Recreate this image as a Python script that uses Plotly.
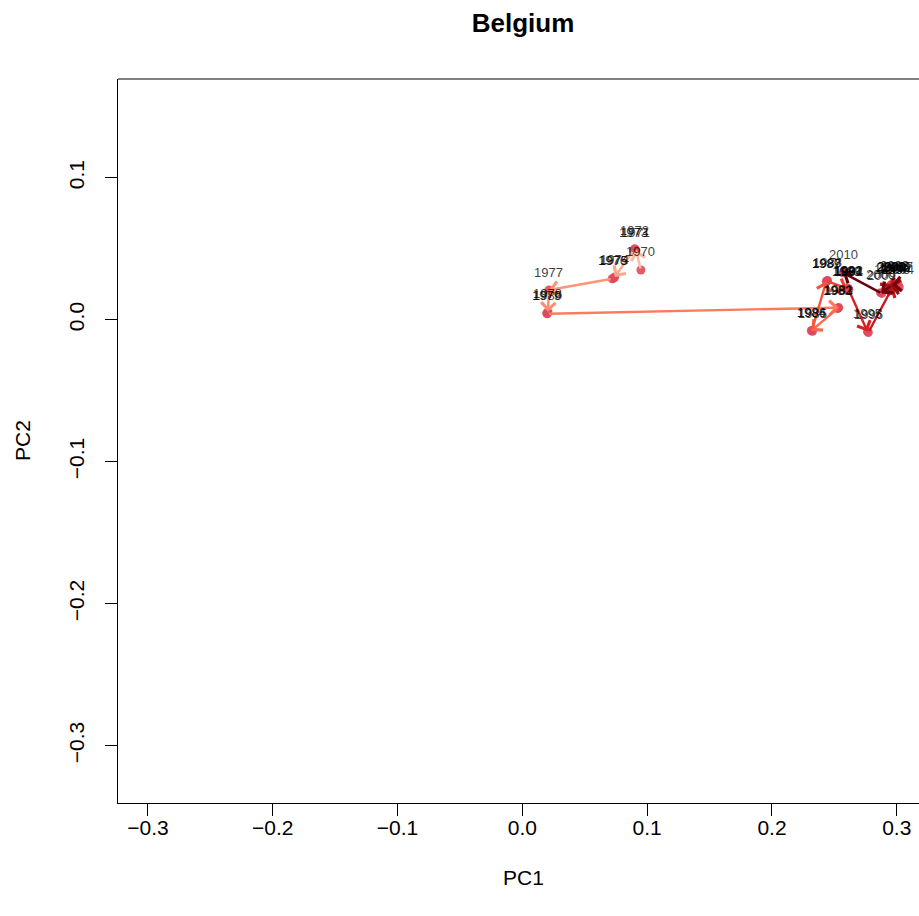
import plotly.graph_objects as go

# Belgium: yearly scores on the first two principal components
years = list(range(1970, 2011))
pc1 = [0.0950, 0.0910, 0.0900, 0.0890, 0.0740, 0.0730, 0.0720, 0.0213,
       0.0205, 0.0195, 0.0200, 0.2535, 0.2525, 0.2530, 0.2315, 0.2325,
       0.2320, 0.2435, 0.2445, 0.2440, 0.2605, 0.2615, 0.2610, 0.2600,
       0.2612, 0.2765, 0.2772, 0.2970, 0.2990, 0.2930, 0.2870, 0.2960,
       0.3000, 0.2980, 0.3020, 0.2950, 0.2990, 0.3010, 0.2960, 0.2880,
       0.2570]
pc2 = [0.0350, 0.0490, 0.0500, 0.0488, 0.0300, 0.0292, 0.0288, 0.0209,
       0.0055, 0.0045, 0.0042, 0.0085, 0.0078, 0.0082, -0.0078, -0.0082,
       -0.0076, 0.0270, 0.0276, 0.0272, 0.0218, 0.0214, 0.0220, 0.0212,
       0.0216, -0.0084, -0.0090, 0.0235, 0.0245, 0.0225, 0.0190, 0.0250,
       0.0240, 0.0255, 0.0230, 0.0240, 0.0225, 0.0250, 0.0245, 0.0185,
       0.0330]

x_ticks = [-0.3, -0.2, -0.1, 0.0, 0.1, 0.2, 0.3]
y_ticks = [-0.3, -0.2, -0.1, 0.0, 0.1]


def fmt(v):
    s = f"{abs(v):.1f}"
    return ("\u2212" + s) if v < 0 else s


# Brewer "Reds" ramp used for the year-to-year arrows
reds = ["#FCBBA1", "#FC9272", "#FB6A4A", "#EF3B2C", "#CB181D", "#A50F15", "#67000D"]


def hex_rgb(h):
    return tuple(int(h[i:i + 2], 16) for i in (1, 3, 5))


def ramp(t):
    n = len(reds) - 1
    pos = t * n
    i = min(int(pos), n - 1)
    f = pos - i
    a, b = hex_rgb(reds[i]), hex_rgb(reds[i + 1])
    c = [round(a[k] + (b[k] - a[k]) * f) for k in range(3)]
    return "#%02X%02X%02X" % tuple(c)


FONT = "Liberation Sans, Arial, Helvetica, sans-serif"
W, H = 919, 916
L, T, B = 118, 79, 113

fig = go.Figure()

fig.add_trace(go.Scatter(
    x=pc1, y=pc2, mode="markers",
    marker=dict(size=9, color="#DE4A5B", opacity=0.9, line=dict(width=0)),
    hoverinfo="text", text=[str(y) for y in years], showlegend=False,
))

annotations = []
nseg = len(years) - 1
for k in range(nseg):
    annotations.append(dict(
        x=pc1[k + 1], y=pc2[k + 1], ax=pc1[k], ay=pc2[k],
        xref="x", yref="y", axref="x", ayref="y",
        text="", showarrow=True, arrowhead=4, arrowsize=1.15,
        arrowwidth=2.4, arrowcolor=ramp(k / (nseg - 1)), standoff=0,
    ))

for yr, xv, yv in zip(years, pc1, pc2):
    annotations.append(dict(
        x=xv, y=yv, xref="x", yref="y", text=str(yr), showarrow=False,
        yshift=18, font=dict(family=FONT, size=13, color="#000000"),
        opacity=0.75,
    ))

# axis titles
annotations.append(dict(
    x=(523 - L) / (W - L), y=0, xref="paper", yref="paper", text="PC1",
    showarrow=False, yshift=-(877 - (H - B)), yanchor="middle",
    font=dict(family=FONT, size=21, color="#000000"),
))
annotations.append(dict(
    x=0, y=0.5, xref="paper", yref="paper", text="PC2", textangle=-90,
    showarrow=False, xshift=-(L - 22), xanchor="center",
    font=dict(family=FONT, size=21, color="#000000"),
))

fig.update_layout(
    width=W, height=H,
    margin=dict(l=L, r=0, t=T, b=B, pad=0),
    paper_bgcolor="white", plot_bgcolor="white",
    title=dict(text="<b>Belgium</b>", x=523 / W, xanchor="center",
               y=1 - 23 / H, yanchor="middle", xref="container", yref="container",
               font=dict(family=FONT, size=26, color="#000000")),
    annotations=annotations,
    shapes=[dict(type="line", xref="paper", yref="paper", x0=0, x1=1, y0=1, y1=1,
                 line=dict(color="black", width=1))],
    xaxis=dict(range=[-0.324, 0.3178], showgrid=False, zeroline=False,
               showline=True, linecolor="black", linewidth=1,
               ticks="outside", ticklen=12, tickcolor="black", tickwidth=1,
               tickvals=x_ticks, ticktext=[fmt(v) for v in x_ticks],
               ticklabelstandoff=-6,
               tickfont=dict(family=FONT, size=21, color="#000000")),
    yaxis=dict(range=[-0.3404, 0.1695], showgrid=False, zeroline=False,
               showline=True, linecolor="black", linewidth=1,
               ticks="outside", ticklen=12, tickcolor="black", tickwidth=1,
               tickvals=y_ticks, ticktext=[fmt(v) for v in y_ticks],
               tickangle=-90, ticklabelstandoff=13,
               tickfont=dict(family=FONT, size=21, color="#000000")),
    hovermode="closest",
)

fig.write_html("out.html")
